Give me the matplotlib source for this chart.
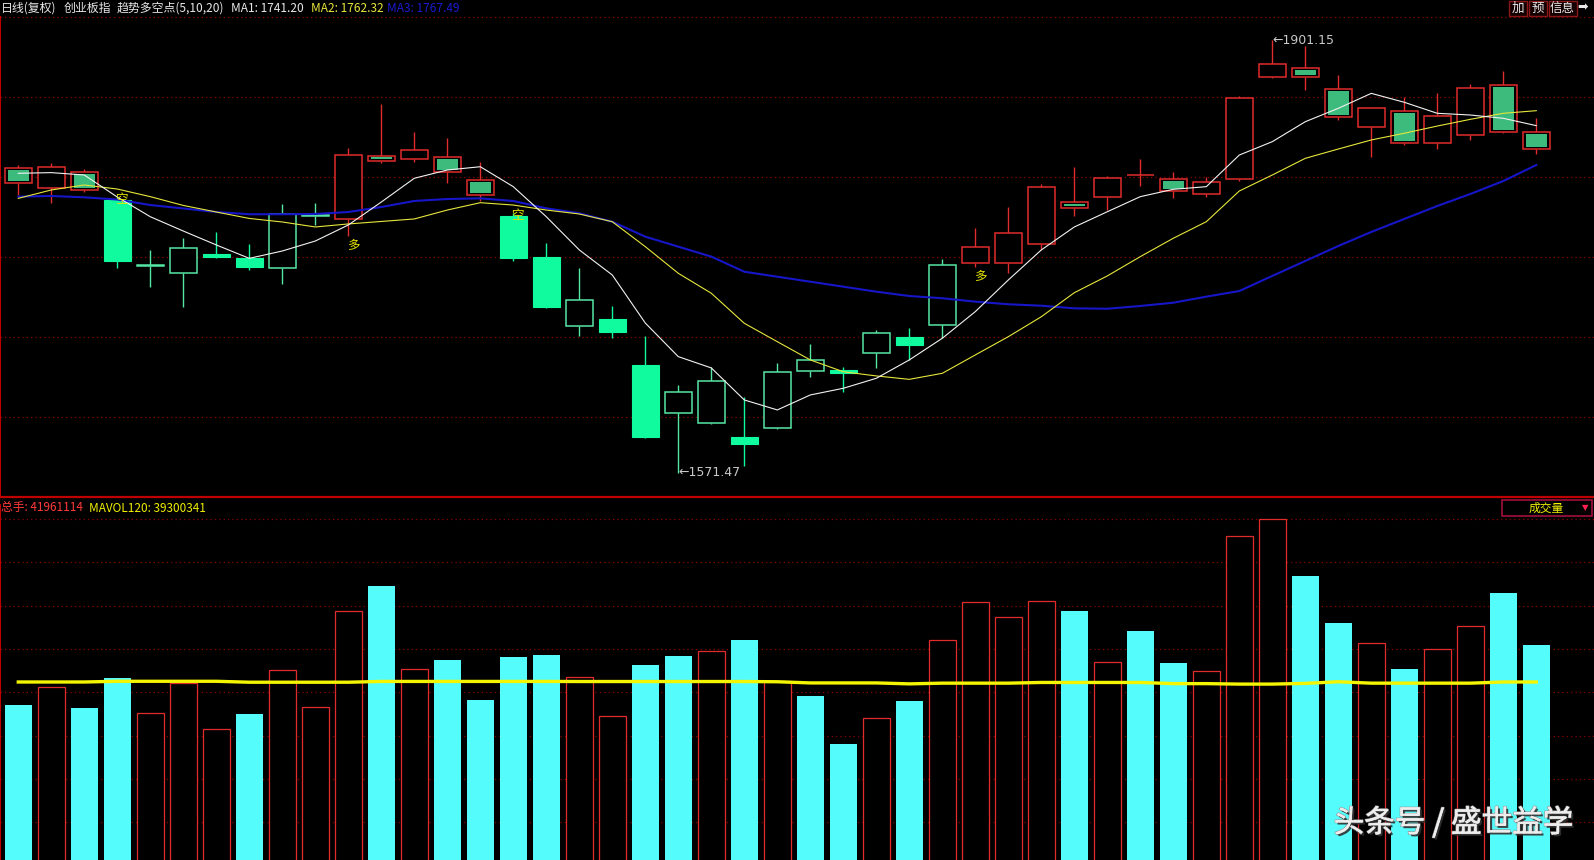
import numpy as np
import matplotlib.pyplot as plt
import matplotlib.patheffects as pe
from matplotlib.patches import Rectangle

plt.rcParams['font.family'] = ['Noto Sans CJK SC', 'DejaVu Sans']

# ---- data (47 daily sessions of 创业板指) ----
opens = [1803.4, 1788.2, 1800.8, 1779.3, 1729.3, 1723.4, 1738.1, 1735.3, 1727.2, 1767.4,
         1764.5, 1812.8, 1810.3, 1811.8, 1794.3, 1767.1, 1735.8, 1683.5, 1688.6, 1653.5,
         1617.2, 1609.1, 1598.5, 1605.3, 1649.2, 1649.7, 1662.4, 1674.9, 1683.8, 1731.0,
         1731.0, 1745.5, 1777.5, 1781.3, 1798.0, 1795.0, 1783.6, 1795.0, 1872.7, 1879.6,
         1863.6, 1834.6, 1847.3, 1822.9, 1828.5, 1866.6, 1830.8]
highs = [1805.9, 1807.2, 1802.9, 1781.5, 1741.2, 1750.1, 1755.1, 1745.5, 1776.2, 1777.2,
         1818.6, 1852.6, 1831.1, 1826.7, 1808.2, 1769.3, 1746.3, 1727.4, 1698.5, 1675.6,
         1638.1, 1651.8, 1629.4, 1655.3, 1669.5, 1652.2, 1680.2, 1681.5, 1734.3, 1757.7,
         1773.7, 1791.4, 1804.6, 1797.5, 1810.5, 1800.4, 1796.5, 1858.5, 1901.15, 1896.8,
         1874.5, 1849.3, 1858.0, 1860.5, 1867.6, 1877.8, 1842.0]
lows = [1783.1, 1776.7, 1785.3, 1727.2, 1712.7, 1697.5, 1734.8, 1725.9, 1715.3, 1760.2,
        1751.8, 1807.7, 1808.4, 1792.0, 1778.5, 1733.0, 1697.2, 1675.9, 1674.3, 1597.7,
        1571.47, 1608.6, 1576.8, 1604.5, 1644.6, 1633.2, 1651.0, 1657.3, 1673.9, 1728.0,
        1723.4, 1741.2, 1767.1, 1771.6, 1790.1, 1780.5, 1781.3, 1793.7, 1872.0, 1863.1,
        1840.2, 1812.2, 1821.2, 1818.1, 1824.9, 1830.1, 1814.1]
closes = [1792.0, 1804.2, 1786.9, 1733.0, 1729.6, 1742.5, 1736.1, 1728.4, 1768.4, 1767.6,
          1813.5, 1809.3, 1817.1, 1800.4, 1783.3, 1735.3, 1698.0, 1702.8, 1678.9, 1598.9,
          1632.7, 1641.3, 1593.1, 1648.0, 1657.3, 1647.2, 1677.7, 1669.0, 1729.5, 1743.2,
          1753.9, 1789.4, 1772.9, 1795.8, 1798.3, 1786.1, 1793.2, 1856.7, 1882.6, 1873.2,
          1842.3, 1849.1, 1822.5, 1843.3, 1864.6, 1830.8, 1817.9]

# moving averages (MA1=5, MA2=10, MA3=20)
ma1 = [1799.6, 1800.1, 1798.3, 1781.5, 1766.5, 1755.6, 1745.0, 1734.8, 1740.4, 1748.0,
       1760.2, 1777.7, 1795.8, 1802.1, 1804.6, 1789.4, 1766.5, 1741.2, 1722.1, 1685.5,
       1659.9, 1651.3, 1626.9, 1619.3, 1630.7, 1635.8, 1643.4, 1657.4, 1673.9, 1694.2,
       1718.3, 1741.2, 1758.7, 1770.3, 1781.8, 1787.4, 1789.4, 1813.5, 1823.7, 1838.9,
       1849.1, 1860.5, 1853.7, 1845.3, 1844.0, 1841.5, 1835.9]
ma2 = [1780.5, 1786.9, 1790.7, 1787.6, 1781.8, 1775.1, 1770.1, 1765.2, 1762.5, 1758.7,
       1761.0, 1762.9, 1764.8, 1771.6, 1777.2, 1775.4, 1771.6, 1768.6, 1762.7, 1743.7,
       1723.4, 1708.2, 1685.3, 1671.3, 1657.4, 1648.4, 1645.2, 1642.6, 1647.2, 1661.2,
       1675.1, 1690.3, 1708.6, 1721.4, 1736.1, 1750.1, 1762.7, 1786.1, 1798.3, 1811.0,
       1818.1, 1825.0, 1830.1, 1835.6, 1840.7, 1845.3, 1847.3]
ma3 = [1781.8, 1782.3, 1781.3, 1779.6, 1775.4, 1772.8, 1770.1, 1768.4, 1768.4, 1768.6,
       1770.1, 1773.9, 1778.5, 1780.0, 1780.5, 1778.5, 1772.9, 1769.1, 1762.7, 1751.3,
       1743.7, 1736.1, 1724.6, 1720.8, 1717.0, 1713.2, 1709.4, 1706.1, 1704.4, 1701.8,
       1699.8, 1698.7, 1696.7, 1696.4, 1698.5, 1701.0, 1705.6, 1709.9, 1721.4, 1732.8,
       1744.2, 1754.9, 1764.8, 1774.7, 1783.8, 1793.7, 1805.9]

# volume in million lots, 1 = red (hollow) bar, 0 = cyan bar
volume_m = [34.39, 38.17, 33.75, 40.15, 32.68, 39.09, 29.26, 32.47, 41.80, 33.96,
            54.40, 59.81, 42.01, 44.00, 35.46, 44.64, 45.07, 40.30, 31.97, 42.93,
            44.85, 45.86, 48.27, 39.50, 36.31, 26.06, 31.55, 35.24, 48.21, 56.32,
            53.12, 56.60, 54.47, 43.51, 50.19, 43.36, 41.59, 70.42, 74.05, 61.94,
            51.90, 47.57, 42.08, 46.28, 51.20, 58.31, 47.20]
vol_up = [0, 1, 0, 0, 1, 1, 1, 0, 1, 1, 1, 0, 1, 0, 0, 0, 0, 1, 1, 0,
          0, 1, 0, 1, 0, 0, 1, 0, 1, 1, 1, 1, 0, 1, 0, 0, 1, 1, 1, 0,
          0, 1, 0, 1, 1, 0, 0]
mavol120_m = [39.30, 39.30, 39.30, 39.45, 39.45, 39.45, 39.45, 39.25, 39.25, 39.25,
              39.25, 39.42, 39.42, 39.42, 39.42, 39.42, 39.42, 39.40, 39.40, 39.40,
              39.40, 39.40, 39.40, 39.35, 39.10, 39.10, 39.10, 38.90, 39.05, 39.05,
              39.05, 39.20, 39.20, 39.20, 39.20, 38.95, 38.95, 38.85, 38.85, 39.00,
              39.35, 39.05, 39.05, 39.05, 39.05, 39.30, 39.30]

# 趋势多空点 signals (session index, label)
signal_idx = [3, 10, 15, 29]
signal_txt = ['空', '多', '空', '多']

header_txt = ['日线(复权)', '创业板指', '趋势多空点(5,10,20)',
              'MA1: 1741.20', 'MA2: 1762.32', 'MA3: 1767.49']
vol_header_txt = ['总手: 41961114', 'MAVOL120: 39300341']

# colours
RED = '#E02C2C'
BRIGHT = '#10FA9E'
LINE_GREEN = '#55E6A4'
MID_GREEN = '#3CBB7D'
CYAN = '#55FCFC'
GRID = '#8A0000'
W = 0.82

n = len(closes)
x = np.arange(n)
FW, FH = 1594.0, 860.0


def trend_zone():
    # +1 for 多 (red) stretch, -1 for 空 (green) stretch
    state = 1 if signal_txt[0] == '空' else -1
    zone = []
    for i in range(n):
        if i in signal_idx:
            state = 1 if signal_txt[signal_idx.index(i)] == '多' else -1
        zone.append(state)
    return zone


def dotted_rows(ax, fracs):
    for f in fracs:
        ax.plot([0, 1], [f, f], transform=ax.transAxes, color=GRID, lw=0.9,
                ls=(0, (1, 2.5)), zorder=0, clip_on=False)


def clean(ax):
    ax.set_facecolor('black')
    ax.set_xticks([])
    ax.set_yticks([])
    for s in ['top', 'right', 'bottom']:
        ax.spines[s].set_visible(False)
    ax.spines['left'].set_color('#C00000')
    ax.spines['left'].set_linewidth(1.5)


def draw_price(ax):
    zone = trend_zone()
    for i in range(n):
        o, h, l, c = opens[i], highs[i], lows[i], closes[i]
        top, bot = max(o, c), min(o, c)
        body = max(top - bot, 0.5)
        left = i - W / 2
        if zone[i] > 0:
            edge = RED
        else:
            edge = LINE_GREEN if c >= o else BRIGHT
        ax.vlines(i, top, h, color=edge, lw=1.0, zorder=2)
        ax.vlines(i, l, bot, color=edge, lw=1.0, zorder=2)
        if zone[i] < 0 and c < o:
            ax.add_patch(Rectangle((left, bot), W, body, facecolor=BRIGHT,
                                   edgecolor=BRIGHT, lw=0.8, zorder=3))
        else:
            ax.add_patch(Rectangle((left, bot), W, body, facecolor='black',
                                   edgecolor=edge, lw=1.1, zorder=3))
            if zone[i] > 0 and c < o:
                ih = max(body - 3.2, 1.2)
                ax.add_patch(Rectangle((left + 0.09, bot + (body - ih) / 2), W - 0.18, ih,
                                       facecolor=MID_GREEN, edgecolor='none', zorder=4))

    ax.plot(x, ma3, color='#1616C8', lw=1.5, zorder=5)
    ax.plot(x, ma2, color='#E6E63C', lw=0.8, zorder=6)
    ax.plot(x, ma1, color='#F2F2F2', lw=0.8, zorder=7)

    for i, t in zip(signal_idx, signal_txt):
        if t == '空':
            ax.annotate(t, (i, highs[i]), xytext=(4, -3), textcoords='offset pixels',
                        ha='center', va='center', color='#E6E600', fontsize=9, zorder=8)
        else:
            ax.annotate(t, (i, lows[i]), xytext=(5, -9), textcoords='offset pixels',
                        ha='center', va='center', color='#E6E600', fontsize=9, zorder=8)

    ih = int(np.argmax(highs))
    il = int(np.argmin(lows))
    ax.text(ih, highs[ih], '←%.2f' % highs[ih], ha='left', va='center',
            color='#C8C8C8', fontsize=9, family=['DejaVu Sans'], zorder=8)
    ax.text(il, lows[il], '←%.2f' % lows[il], ha='left', va='center',
            color='#C8C8C8', fontsize=9, family=['DejaVu Sans'], zorder=8)

    dotted_rows(ax, [k / 6 for k in range(1, 7)])
    ax.set_xlim(-18.3 / 33, (FW - 18.3) / 33)
    ax.set_ylim(1552.73, 1918.45)
    ax.spines['bottom'].set_visible(True)
    ax.spines['bottom'].set_color('#C00000')
    ax.spines['bottom'].set_linewidth(1.6)


def draw_volume(ax):
    vol = np.array(volume_m)
    up = np.array(vol_up) == 1
    ax.bar(x[~up], vol[~up], width=W, color=CYAN, zorder=2)
    ax.bar(x[up], vol[up], width=W, facecolor='black', edgecolor=RED, lw=0.9, zorder=2)
    ax.plot(x, mavol120_m, color='#F5F500', lw=2.4, zorder=3)
    dotted_rows(ax, [1 - (14 + 43.33 * k) / 361 for k in range(8)])
    ax.set_xlim(-18.3 / 33, (FW - 18.3) / 33)
    ax.set_ylim(0, 77.1)


fig = plt.figure(figsize=(FW / 100, FH / 100), dpi=100, facecolor='black')
ax1 = fig.add_axes([0, 1 - 497.3 / FH, 1, 480 / FH])
ax2 = fig.add_axes([0, 1 - 866 / FH, 1, 361 / FH])
clean(ax1)
clean(ax2)
draw_price(ax1)
draw_volume(ax2)

# header line of the price pane
hx = [1, 64, 117, 231, 311, 387]
hc = ['#E8E8E8', '#E8E8E8', '#E8E8E8', '#E8E8E8', '#E6E63C', '#1A1AD0']
for t, px, col in zip(header_txt, hx, hc):
    fig.text(px / FW, 1 - 8 / FH, t, ha='left', va='center', fontsize=8.6, color=col)

# buttons at the top right
for t, cx, bw in [('加', 1518, 18), ('预', 1538, 18), ('信息', 1562.5, 28)]:
    fig.patches.append(Rectangle(((cx - bw / 2) / FW, 1 - 16 / FH), bw / FW, 15 / FH,
                                 transform=fig.transFigure, facecolor='#140000',
                                 edgecolor='#8A1818', lw=1))
    fig.text(cx / FW, 1 - 8 / FH, t, ha='center', va='center', fontsize=9, color='#E8E8E8')
fig.text(1583 / FW, 1 - 8 / FH, '➡', ha='center', va='center', fontsize=9,
         color='#E8E8E8', family=['DejaVu Sans'])

# header of the volume pane
fig.text(1 / FW, 1 - 508 / FH, vol_header_txt[0], ha='left', va='center', fontsize=8.5, color='#FF3A3A')
fig.text(89 / FW, 1 - 508 / FH, vol_header_txt[1], ha='left', va='center', fontsize=8.5, color='#F0F000')
fig.patches.append(Rectangle((1501.7 / FW, 1 - 516 / FH), 90 / FW, 16 / FH,
                             transform=fig.transFigure, facecolor='black',
                             edgecolor='#A0103C', lw=1.2))
fig.text(1546 / FW, 1 - 508 / FH, '成交量', ha='center', va='center', fontsize=8.5, color='#F0F000')
fig.text(1585 / FW, 1 - 508 / FH, '▼', ha='center', va='center', fontsize=6,
         color='#FF2050', family=['DejaVu Sans'])

# watermark
fig.text(1573 / FW, 1 - 823 / FH, '头条号 / 盛世益学', ha='right', va='center',
         fontsize=22, color='#EDEDED',
         path_effects=[pe.withStroke(linewidth=1.2, foreground='#9A9A9A'),
                       pe.withSimplePatchShadow(offset=(1.5, -1.5), shadow_rgbFace='#303030', alpha=0.9),
                       pe.Normal()])

plt.savefig('out.png', dpi=100, facecolor='black')
